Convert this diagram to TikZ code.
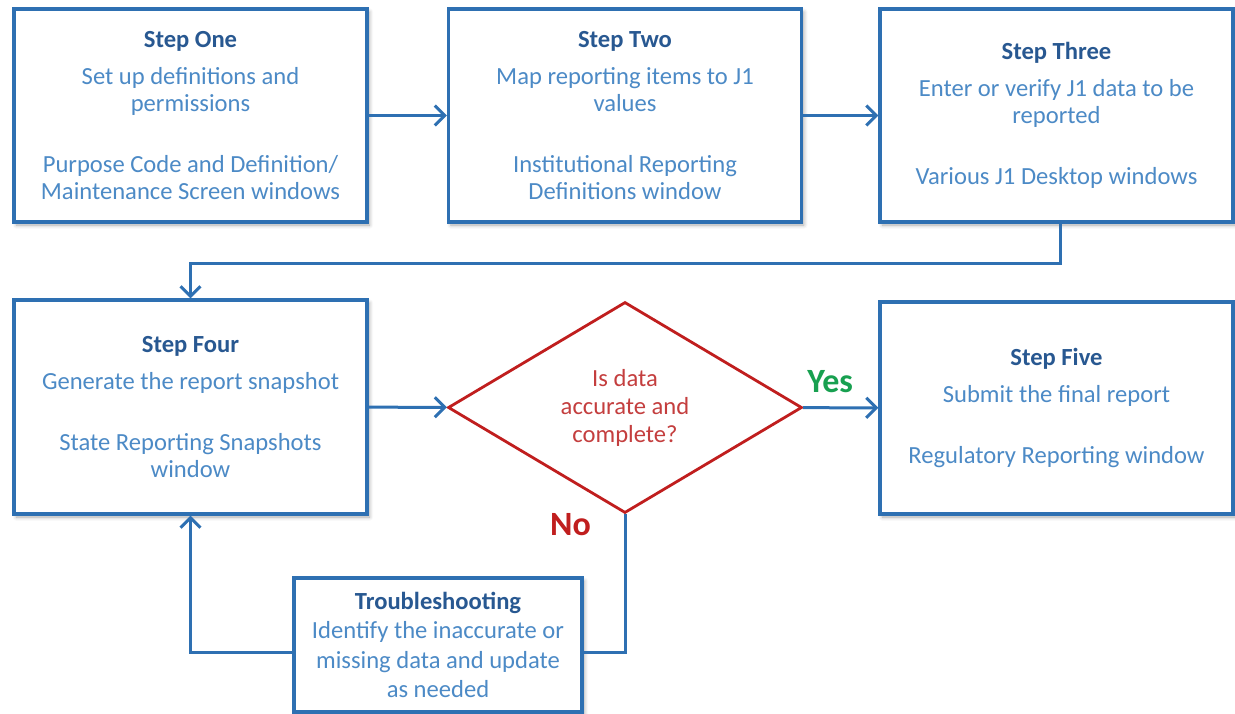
\documentclass[tikz,border=0pt]{standalone}
\usepackage{fontspec}
\setmainfont{Carlito}
\usetikzlibrary{arrows.meta,shapes.geometric,shadows.blur}
\definecolor{lineblue}{RGB}{46,112,178}
\definecolor{titleblue}{RGB}{40,88,145}
\definecolor{bodyblue}{RGB}{76,138,198}
\definecolor{askred}{RGB}{192,30,30}
\definecolor{asktext}{RGB}{196,62,62}
\definecolor{yesgreen}{RGB}{24,160,80}
\tikzset{
  stepbox/.style={draw=lineblue, line width=1.6pt, fill=white, align=center,
    text=bodyblue, inner sep=0pt, minimum width=176.5pt, minimum height=106.5pt,
    font=\fontsize{12.3}{13.5}\selectfont,
    blur shadow={shadow xshift=1.2pt, shadow yshift=-1.5pt, shadow blur steps=4, shadow opacity=35}},
  fixbox/.style={stepbox, minimum width=144pt, minimum height=67pt,
    font=\fontsize{12.3}{14.7}\selectfont},
  decision/.style={diamond, draw=askred, line width=1.4pt, fill=white, align=center,
    text=asktext, inner sep=0pt, minimum width=177pt, minimum height=105.5pt,
    font=\fontsize{12.3}{14}\selectfont},
  flow/.style={draw=lineblue, line width=1.5pt, -{Straight Barb[length=5pt,width=10pt,line width=1.5pt]}},
  flowline/.style={draw=lineblue, line width=1.5pt},
  answer/.style={font=\fontsize{17}{19}\selectfont\bfseries},
}
\newcommand{\steptitle}[1]{{\color{titleblue}\bfseries #1}}
\begin{document}
\begin{tikzpicture}[x=0.5pt,y=-0.5pt]
  \useasboundingbox (0,0) rectangle (1235,713);
  % top row
  \node[stepbox] (one) at (190.5,115.5) {\steptitle{Step One}\\[5pt]
    Set up definitions and\\ permissions\\[17pt]
    Purpose Code and Definition/\\ Maintenance Screen windows};
  \node[stepbox] (two) at (625,115.5) {\steptitle{Step Two}\\[5pt]
    Map reporting items to J1\\ values\\[17pt]
    Institutional Reporting\\ Definitions window};
  \node[stepbox] (three) at (1056.5,115.5) {\steptitle{Step Three}\\[5pt]
    Enter or verify J1 data to be\\ reported\\[17pt]
    Various J1 Desktop windows};
  % bottom row
  \node[stepbox, minimum height=107pt] (four) at (190.5,407) {\steptitle{Step Four}\\[5pt]
    Generate the report snapshot\\[17pt]
    State Reporting Snapshots\\ window};
  \node[decision] (check) at (625,407.5) {Is data\\ accurate and\\ complete?};
  \node[stepbox, minimum height=106pt] (five) at (1056.5,408) {\steptitle{Step Five}\\[5pt]
    Submit the final report\\[17pt]
    Regulatory Reporting window};
  \node[fixbox] (fix) at (438,645) {\steptitle{Troubleshooting}\\
    Identify the inaccurate or\\ missing data and update\\ as needed};
  % connectors
  \draw[flow] (one) -- (two);
  \draw[flow] (two) -- (three);
  \draw[flow] ([xshift=2pt]three.south) -- ++(0,40) -| (four.north);
  \draw[flow] (four) -- (check);
  \draw[flow] (check) -- (five)
    node[answer, text=yesgreen, pos=0.36, above=3.5pt] {Yes};
  \draw[flowline] (check.south) |- ([yshift=-3.5pt]fix.east)
    node[answer, text=askred, pos=0, anchor=north east, xshift=-13pt, yshift=4.5pt] {No};
  \draw[flow] ([yshift=-3.5pt]fix.west) -| (four.south);
\end{tikzpicture}
\end{document}
